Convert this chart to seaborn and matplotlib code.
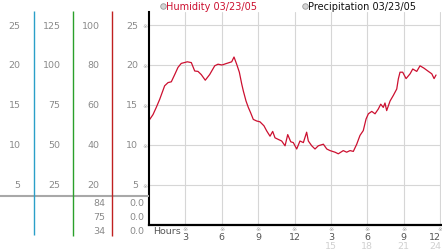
import numpy as np
import pandas as pd
import matplotlib
matplotlib.use("Agg")
import matplotlib.pyplot as plt
import matplotlib.transforms as mtransforms
from matplotlib.lines import Line2D
import seaborn as sns

# ---------------- data ----------------
hours = [0.06, 0.33, 0.6, 0.88, 1.29, 1.57, 1.84, 2.12, 2.39, 2.66, 3.16, 3.49, 3.77, 4.04,
         4.31, 4.64, 5.0, 5.42, 5.69, 6.02, 6.41, 6.82, 7.01, 7.23, 7.45, 7.65, 7.78, 8.0,
         8.19, 8.39, 8.6, 8.88, 9.15, 9.48, 9.71, 9.98, 10.2, 10.39, 10.66, 10.94, 11.22,
         11.44, 11.69, 11.9, 12.18, 12.45, 12.73, 13.0, 13.14, 13.42, 13.69, 13.96, 14.38,
         14.66, 14.93, 15.34, 15.61, 16.02, 16.3, 16.58, 16.85, 17.13, 17.4, 17.67, 17.9,
         18.09, 18.37, 18.64, 18.91, 19.11, 19.32, 19.46, 19.6, 19.88, 20.15, 20.43, 20.56,
         20.7, 20.92, 21.2, 21.53, 21.75, 22.08, 22.35, 22.68, 23.04, 23.32, 23.51, 23.67]
humidity = [13.2, 13.8, 14.7, 15.7, 17.4, 17.8, 17.9, 18.8, 19.7, 20.2, 20.4, 20.3, 19.25, 19.2,
            18.8, 18.1, 18.8, 19.9, 20.1, 20.0, 20.2, 20.4, 21.0, 20.1, 19.1, 17.6, 16.75, 15.5,
            14.7, 14.0, 13.2, 13.0, 12.9, 12.4, 11.75, 11.1, 11.7, 10.9, 10.7, 10.5, 9.9,
            11.3, 10.4, 10.3, 9.5, 10.5, 10.3, 11.6, 10.5, 9.9, 9.5, 9.9, 10.1,
            9.5, 9.3, 9.1, 8.9, 9.3, 9.1, 9.3, 9.2, 10.1, 11.2, 11.8, 13.25,
            13.9, 14.2, 13.9, 14.5, 15.1, 14.7, 15.25, 14.3, 15.5, 16.2, 17.0, 18.25,
            19.1, 19.1, 18.3, 18.9, 19.5, 19.2, 19.9, 19.6, 19.2, 18.9, 18.3, 18.75]

y_values = [5, 10, 15, 20, 25]
col1_labels = ["5", "10", "15", "20", "25"]
col2_labels = ["25", "50", "75", "100", "125"]
col3_labels = ["20", "40", "60", "80", "100"]
col4_labels = ["5", "10", "15", "20", "25"]
row_col3 = ["84", "75", "34"]
row_col4 = ["0.0", "0.0", "0.0"]

x_ticks = [3, 6, 9, 12, 15, 18, 21, 24]
x_labels = ["3", "6", "9", "12", "3", "6", "9", "12"]
x_labels2 = ["", "", "", "", "15", "18", "21", "24"]

legend_labels = ["Humidity 03/23/05", "Precipitation 03/23/05"]

df = pd.DataFrame({"hour": hours, "humidity": humidity})

# ---------------- style ----------------
sns.set_theme(style="white")
plt.rcParams["font.family"] = ["DejaVu Sans"]

W, H = 442, 253
fig = plt.figure(figsize=(W / 100, H / 100), dpi=100)


def px_rect(x0, y0, x1, y1):
    return [x0 / W, 1 - y1 / H, (x1 - x0) / W, (y1 - y0) / H]


RED = "#cc1030"
GRAY_TXT = "#8a8a8a"
FS = 6.8

# ---------------- main plot ----------------
ax = fig.add_axes(px_rect(149, 13, 441, 226))
ax.set_xlim(0, 24.08)
ax.set_ylim(0, 26.625)
ax.set_facecolor("white")
ax.grid(True, color="#d6d6d6", lw=0.8)
ax.set_axisbelow(True)
sns.lineplot(data=df, x="hour", y="humidity", ax=ax, color=RED, lw=0.9)
ax.set_xlabel("")
ax.set_ylabel("")
for s in ["top", "right"]:
    ax.spines[s].set_visible(False)
ax.spines["left"].set_color("black")
ax.spines["left"].set_linewidth(1.5)
ax.spines["bottom"].set_color("black")
ax.spines["bottom"].set_linewidth(1.6)

ax.set_yticks(y_values)
ax.set_yticklabels(["※"] * len(y_values), fontsize=4.5, color="#a8a8a8")
ax.tick_params(axis="y", length=0, pad=1)
ax.set_xticks(x_ticks)
ax.set_xticklabels([])
ax.tick_params(axis="x", length=0)

xt = ax.get_xaxis_transform()
xt_last = mtransforms.offset_copy(xt, fig=fig, x=1.2, y=0, units="dots")


def yax(ypx):
    return (226 - ypx) / 213


for xv, l1, l2 in zip(x_ticks, x_labels, x_labels2):
    last = xv == x_ticks[-1]
    tr = xt_last if last else xt
    ha = "right" if last else "center"
    ax.text(xv, yax(230), "※", transform=xt, ha="center", va="center",
            fontsize=4.5, color="#a0a0a0", clip_on=False)
    ax.text(xv, yax(237.5), l1, transform=tr, ha=ha, va="center",
            fontsize=FS, color="#555555", clip_on=False)
    if l2:
        ax.text(xv, yax(246.5), l2, transform=tr, ha=ha, va="center",
                fontsize=FS, color="#d0d0d0", clip_on=False)
ax.text(0.3, yax(232), "Hours", transform=xt, ha="left", va="center",
        fontsize=FS, color="#555555", clip_on=False)

# ---------------- left table ----------------
axl = fig.add_axes(px_rect(0, 0, 149, 253))
axl.set_xlim(0, 149)
axl.set_ylim(-27 / 8, 226 / 8)
axl.axis("off")

for v, a, b, c, d in zip(y_values, col1_labels, col2_labels, col3_labels, col4_labels):
    axl.text(20.5, v, a, ha="right", va="center", fontsize=FS, color=GRAY_TXT)
    axl.text(60.5, v, b, ha="right", va="center", fontsize=FS, color=GRAY_TXT)
    axl.text(99.5, v, c, ha="right", va="center", fontsize=FS, color=GRAY_TXT)
    axl.text(138, v, d, ha="right", va="center", fontsize=FS, color=GRAY_TXT)

row_y = [2.75, 1.0, -0.75]
for yv, c, d in zip(row_y, row_col3, row_col4):
    axl.text(105, yv, c, ha="right", va="center", fontsize=FS, color=GRAY_TXT)
    axl.text(144.5, yv, d, ha="right", va="center", fontsize=FS, color=GRAY_TXT)

axl.hlines(3.625, 0, 149, color="#a8a8a8", lw=1.5)
axl.vlines(33.5, -1.3, 26.75, color="#2a9fc8", lw=1.0)
axl.vlines(72.5, -1.4, 26.75, color="#2aa02a", lw=1.0)
axl.vlines(111.5, -1.4, 26.75, color="#c02020", lw=1.0)

# ---------------- legend ----------------
for xpx, lab, col in [(162.5, legend_labels[0], RED), (304.5, legend_labels[1], "#111111")]:
    fig.add_artist(Line2D([xpx / W], [1 - 6.5 / H], transform=fig.transFigure,
                          marker="o", ls="", ms=4, mfc="#d4d4d4", mec="#999999", mew=0.6))
    fig.text((xpx + 3.5) / W, 1 - 6.5 / H, lab, ha="left", va="center",
             fontsize=7.0, color=col)

fig.savefig("out.png", dpi=100)
